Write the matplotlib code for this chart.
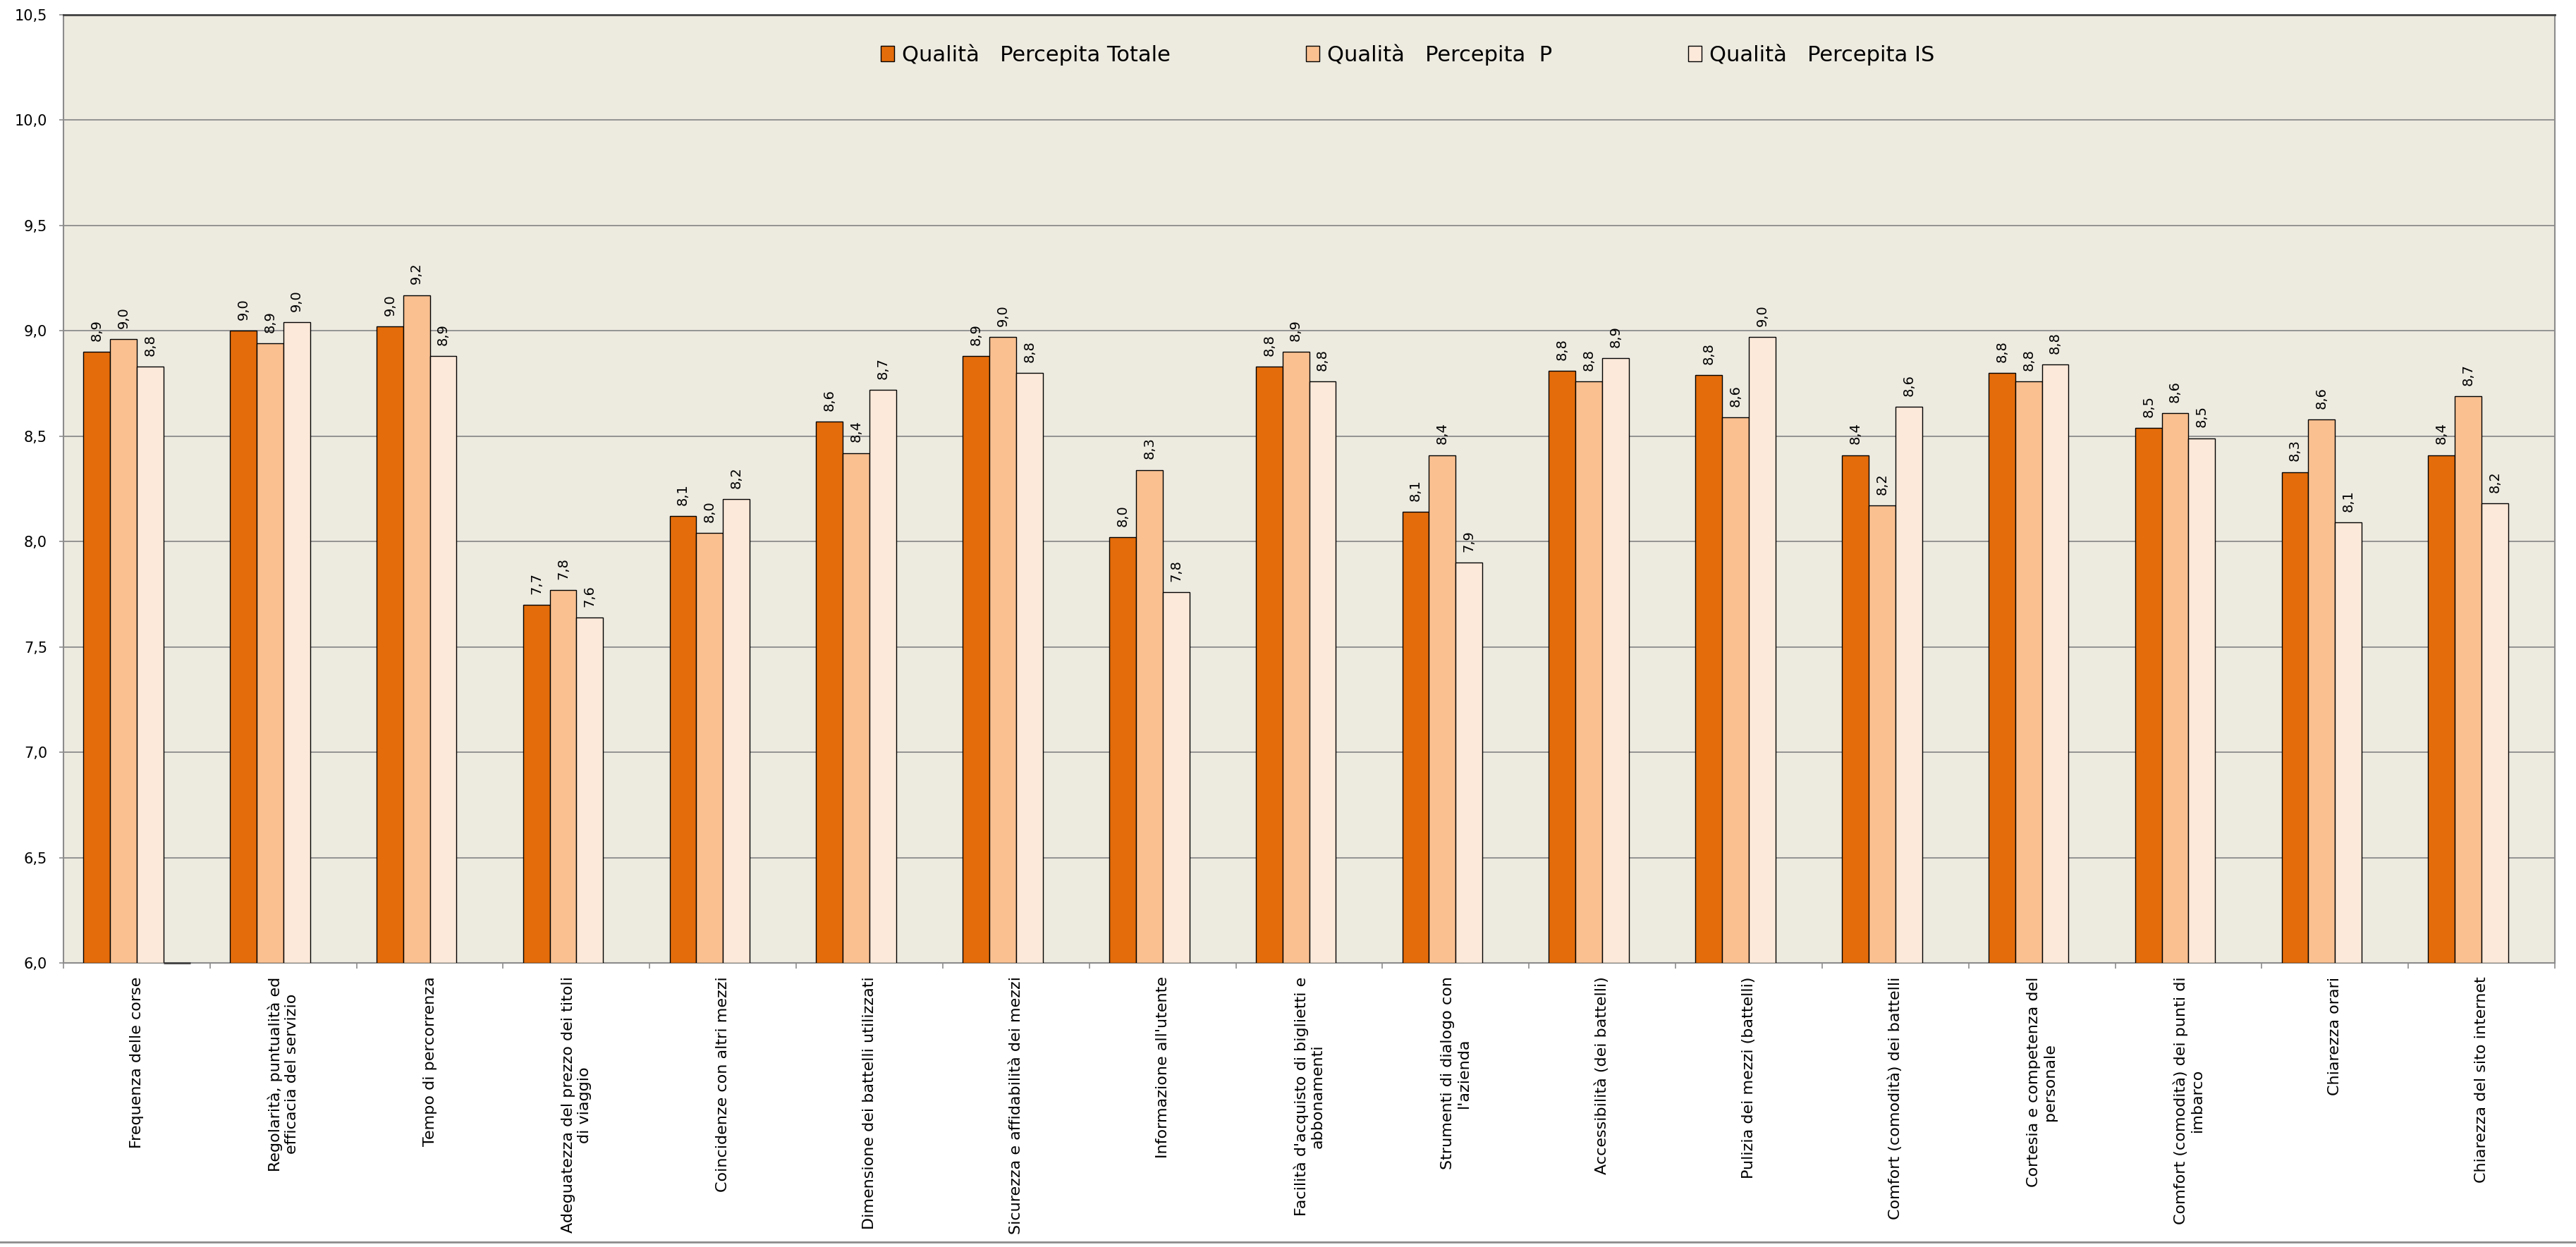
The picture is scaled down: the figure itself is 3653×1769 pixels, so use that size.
import numpy as np
import matplotlib.pyplot as plt
from matplotlib.ticker import FuncFormatter
from matplotlib.lines import Line2D

categorie = [
    "Frequenza delle corse",
    "Regolarità, puntualità ed\nefficacia del servizio",
    "Tempo di percorrenza",
    "Adeguatezza del prezzo dei titoli\ndi viaggio",
    "Coincidenze con altri mezzi",
    "Dimensione dei battelli utilizzati",
    "Sicurezza e affidabilità dei mezzi",
    "Informazione all'utente",
    "Facilità d'acquisto di biglietti e\nabbonamenti",
    "Strumenti di dialogo con\nl'azienda",
    "Accessibilità (dei battelli)",
    "Pulizia dei mezzi (battelli)",
    "Comfort (comodità) dei battelli",
    "Cortesia e competenza del\npersonale",
    "Comfort (comodità) dei punti di\nimbarco",
    "Chiarezza orari",
    "Chiarezza del sito internet",
]

totale = [8.90, 9.00, 9.02, 7.70, 8.12, 8.57, 8.88, 8.02, 8.83, 8.14,
          8.81, 8.79, 8.41, 8.80, 8.54, 8.33, 8.41]
percepita_p = [8.96, 8.94, 9.17, 7.77, 8.04, 8.42, 8.97, 8.34, 8.90, 8.41,
               8.76, 8.59, 8.17, 8.76, 8.61, 8.58, 8.69]
percepita_is = [8.83, 9.04, 8.88, 7.64, 8.20, 8.72, 8.80, 7.76, 8.76, 7.90,
                8.87, 8.97, 8.64, 8.84, 8.49, 8.09, 8.18]
# fourth (empty) series of the original sheet: only a stub at the axis floor
quarta = [6.0] + [np.nan] * 16

nomi = ["Qualità   Percepita Totale", "Qualità   Percepita  P", "Qualità   Percepita IS"]
colori = ["#E46C0A", "#FAC090", "#FDE9D9"]

Y_MIN, Y_MAX = 6.0, 10.5
W = 0.182
GAP = (1 - 4 * W) / 2

W_PX, H_PX = 3653, 1769
fig = plt.figure(figsize=(W_PX / 100, H_PX / 100), dpi=100)
ax = fig.add_axes([90 / W_PX, 1 - 1366 / H_PX, (3623 - 90) / W_PX, (1366 - 21) / H_PX])
ax.set_facecolor("#EDEAE0")

x = np.arange(len(categorie))

def pos(j):
    return x - 0.5 + GAP + W * (j + 0.5)

serie = [totale, percepita_p, percepita_is]
for j, vals in enumerate(serie):
    vals = np.array(vals)
    ax.bar(pos(j), vals - Y_MIN, bottom=Y_MIN, width=W, color=colori[j],
           edgecolor="black", linewidth=1.0, label=nomi[j], zorder=3)
    for xx, v in zip(pos(j), vals):
        ax.annotate(f"{v:.1f}".replace(".", ","), (xx, v), xytext=(0, 11),
                    textcoords="offset points", rotation=90, ha="center",
                    va="bottom", fontsize=14, color="black")

q = np.array(quarta)
ax.bar(pos(3), q - Y_MIN, bottom=Y_MIN, width=W, color="none",
       edgecolor="#404040", linewidth=2.0, zorder=4, clip_on=False)

ax.set_ylim(Y_MIN, Y_MAX)
ax.set_xlim(-0.5, len(categorie) - 0.5)
ax.set_yticks(np.arange(6.0, 10.51, 0.5))
ax.yaxis.set_major_formatter(FuncFormatter(lambda v, p: f"{v:.1f}".replace(".", ",")))
ax.yaxis.grid(True, color="#8C8C8C", linewidth=1.3, zorder=1)
ax.set_axisbelow(True)

ax.set_xticks(np.arange(-0.5, len(categorie), 1.0))
ax.set_xticklabels([])
ax.set_xticks(x, minor=True)
ax.set_xticklabels(categorie, minor=True, rotation=90, ha="center", va="top",
                   multialignment="center", fontsize=16)
ax.tick_params(axis="x", which="major", length=6, width=1.2, color="#8C8C8C")
ax.tick_params(axis="x", which="minor", length=0, pad=14)
ax.tick_params(axis="y", length=4.5, width=1.2, color="#8C8C8C", pad=12,
               labelsize=15)

for s in ["left", "right", "bottom"]:
    ax.spines[s].set_color("#8C8C8C")
    ax.spines[s].set_linewidth(1.5)
ax.spines["top"].set_color("#404040")
ax.spines["top"].set_linewidth(2.0)

ax.legend(loc="center", bbox_to_anchor=(0.5395, 0.958), ncol=3, frameon=False,
          fontsize=22, handlelength=0.62, handleheight=0.7,
          handletextpad=0.36, columnspacing=6.3)

fig.add_artist(Line2D([0, 1], [0.004, 0.004], transform=fig.transFigure,
                      color="#8C8C8C", linewidth=2.0))

fig.savefig("out.png", dpi=100)
